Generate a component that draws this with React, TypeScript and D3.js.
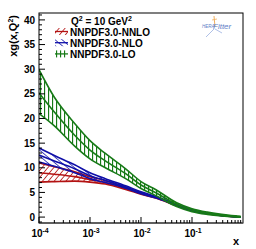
import React from "react";
import * as d3 from "d3";

const xGrid = [1e-4, 2e-4, 5e-4, 1e-3, 2e-3, 5e-3, 1e-2, 2e-2, 5e-2, 0.1, 0.2, 0.3, 0.5, 0.7, 0.9];

const nnloCentral = [9.0, 8.7, 8.2, 7.6, 7.0, 5.8, 4.8, 3.9, 2.4, 1.35, 0.75, 0.48, 0.22, 0.1, 0.04];
const nnloLow = [7.1, 7.2, 7.3, 7.1, 6.7, 5.6, 4.65, 3.8, 2.3, 1.28, 0.71, 0.45, 0.2, 0.09, 0.03];
const nnloHigh = [11.0, 10.2, 9.2, 8.2, 7.4, 6.0, 4.95, 4.0, 2.5, 1.42, 0.79, 0.51, 0.24, 0.11, 0.05];

const nloCentral = [12.6, 11.4, 9.8, 8.4, 7.4, 6.1, 4.95, 4.0, 2.45, 1.37, 0.76, 0.48, 0.22, 0.1, 0.04];
const nloLow = [11.2, 10.3, 9.0, 7.8, 7.0, 5.85, 4.75, 3.85, 2.35, 1.3, 0.72, 0.45, 0.2, 0.09, 0.03];
const nloHigh = [14.0, 12.5, 10.6, 9.0, 7.8, 6.35, 5.15, 4.15, 2.55, 1.44, 0.8, 0.51, 0.24, 0.11, 0.05];

const loCentral = [25.2, 21.3, 16.6, 13.6, 11.4, 8.8, 6.5, 4.9, 2.55, 1.4, 0.8, 0.52, 0.27, 0.13, 0.06];
const loLow = [21.0, 18.5, 14.4, 11.8, 10.0, 7.8, 5.8, 4.3, 2.15, 1.1, 0.55, 0.33, 0.13, 0.04, 0.0];
const loHigh = [29.9, 24.3, 19.0, 15.5, 12.9, 9.8, 7.2, 5.5, 2.9, 1.7, 1.0, 0.7, 0.4, 0.24, 0.14];

const legendLabels = ["NNPDF3.0-NNLO", "NNPDF3.0-NLO", "NNPDF3.0-LO"];
const yTickValues = [0, 5, 10, 15, 20, 25, 30, 35, 40];
const xTickExponents = [-4, -3, -2, -1];

const W = 256;
const H = 249;
const left = 39;
const right = 243;
const top = 13;
const bottom = 223;

const RED = "#b31212";
const BLUE = "#1010a8";
const GREEN = "#177a17";

const App: React.FC = () => {
  const x = d3.scaleLog().domain([1e-4, 1]).range([left, right]);
  const y = d3.scaleLinear().domain([-1.2, 41.4]).range([bottom, top]);

  const line = (vals: number[]) =>
    d3
      .line<number>()
      .x((_, i) => x(xGrid[i]))
      .y((d) => y(d))
      .curve(d3.curveMonotoneX)(vals) || "";

  const area = (lo: number[], hi: number[]) =>
    d3
      .area<number>()
      .x((_, i) => x(xGrid[i]))
      .y0((_, i) => y(lo[i]))
      .y1((_, i) => y(hi[i]))
      .curve(d3.curveMonotoneX)(lo) || "";

  const series = [
    { c: nnloCentral, lo: nnloLow, hi: nnloHigh, color: RED, pat: "hatchRed" },
    { c: nloCentral, lo: nloLow, hi: nloHigh, color: BLUE, pat: "hatchBlue" },
    { c: loCentral, lo: loLow, hi: loHigh, color: GREEN, pat: "hatchGreen" },
  ];

  // minor ticks
  const yMinor = d3.range(-1, 42, 1).filter((v) => v % 5 !== 0);
  const xMinor: number[] = [];
  for (let e = -4; e < 0; e++) {
    for (let k = 2; k <= 9; k++) xMinor.push(k * Math.pow(10, e));
  }

  const font = "'Liberation Sans', Arial, sans-serif";

  return (
    <svg
      width={W}
      height={H}
      style={{ position: "absolute", left: 0, top: 0, background: "#fff" }}
      fontFamily={font}
    >
      <defs>
        <pattern id="hatchRed" patternUnits="userSpaceOnUse" width="4.5" height="4.5" patternTransform="rotate(40)">
          <line x1="0" y1="0" x2="0" y2="4.5" stroke={RED} strokeWidth={1.6} />
        </pattern>
        <pattern id="hatchBlue" patternUnits="userSpaceOnUse" width="4.5" height="4.5" patternTransform="rotate(-50)">
          <line x1="0" y1="0" x2="0" y2="4.5" stroke={BLUE} strokeWidth={1.5} />
        </pattern>
        <pattern id="hatchGreen" patternUnits="userSpaceOnUse" width="4" height="4">
          <line x1="0.5" y1="0" x2="0.5" y2="4" stroke={GREEN} strokeWidth={1.3} />
        </pattern>
        <clipPath id="frame">
          <rect x={left} y={top} width={right - left} height={bottom - top} />
        </clipPath>
      </defs>

      <rect x={0} y={0} width={W} height={H} fill="#fff" />

      {/* bands */}
      <g clipPath="url(#frame)">
        {series.map((s, i) => (
          <g key={i}>
            <path d={area(s.lo, s.hi)} fill={`url(#${s.pat})`} stroke="none" />
            <path d={line(s.lo)} fill="none" stroke={s.color} strokeWidth={1.6} />
            <path d={line(s.hi)} fill="none" stroke={s.color} strokeWidth={1.6} />
            <path d={line(s.c)} fill="none" stroke={s.color} strokeWidth={1.6} />
          </g>
        ))}
      </g>

      {/* frame */}
      <rect x={left} y={top} width={right - left} height={bottom - top} fill="none" stroke="#000" strokeWidth={1} />
      <line x1={left} x2={right} y1={bottom} y2={bottom} stroke="#555" strokeWidth={1.6} />

      {/* y axis ticks */}
      {yTickValues.map((v) => (
        <g key={v}>
          <line x1={left} x2={left + 6} y1={y(v)} y2={y(v)} stroke="#000" strokeWidth={1} />
          <text x={left - 4} y={y(v) + 3.6} fontSize={10} fontWeight="bold" textAnchor="end">
            {v}
          </text>
        </g>
      ))}
      {yMinor.map((v) => (
        <line key={v} x1={left} x2={left + 3} y1={y(v)} y2={y(v)} stroke="#000" strokeWidth={1} />
      ))}

      {/* x axis ticks */}
      {xTickExponents.map((e) => {
        const px = x(Math.pow(10, e));
        return (
          <g key={e}>
            <line x1={px} x2={px} y1={bottom} y2={bottom - 6} stroke="#000" strokeWidth={1} />
            <text x={px - 2} y={bottom + 14} fontSize={10} fontWeight="bold" textAnchor="middle">
              10
            </text>
            <text x={px + 3.5} y={bottom + 9.5} fontSize={7} fontWeight="bold">
              {e}
            </text>
          </g>
        );
      })}
      {xMinor.map((v, i) => (
        <line key={i} x1={x(v)} x2={x(v)} y1={bottom} y2={bottom - 3} stroke="#000" strokeWidth={1} />
      ))}

      {/* axis titles */}
      <text x={239} y={245} fontSize={11} fontWeight="bold" textAnchor="end">
        x
      </text>
      <text transform="translate(17,15) rotate(-90)" fontSize={11} fontWeight="bold" textAnchor="end">
        xg(x,Q<tspan dy={-4} fontSize={7}>2</tspan>
        <tspan dy={4}>)</tspan>
      </text>

      {/* legend */}
      <text x={71} y={25} fontSize={10} fontWeight="bold">
        Q<tspan dy={-4} fontSize={7}>2</tspan>
        <tspan dy={4}> = 10 GeV</tspan>
        <tspan dy={-4} fontSize={7}>2</tspan>
      </text>
      {legendLabels.map((lab, i) => {
        const yy = 35.5 + i * 11.2;
        const s = series[i];
        return (
          <g key={lab}>
            <rect x={55} y={yy - 7.5} width={13} height={7} fill={`url(#${s.pat})`} />
            <line x1={55} x2={68} y1={yy - 4} y2={yy - 4} stroke={s.color} strokeWidth={1.3} />
            <text x={70} y={yy} fontSize={10} fontWeight="bold">
              {lab}
            </text>
          </g>
        );
      })}

      {/* HERAFitter logo */}
      <g>
        <line x1={214} y1={16} x2={215} y2={27} stroke="#f0b060" strokeWidth={1} />
        <line x1={212} y1={20} x2={217} y2={19} stroke="#f0b060" strokeWidth={0.8} />
        <line x1={214} y1={29} x2={206} y2={37} stroke="#9ab0e0" strokeWidth={0.8} />
        <line x1={215} y1={29} x2={222} y2={33} stroke="#9ab0e0" strokeWidth={0.8} />
        <text x={202} y={28} fontSize={4.5} fontStyle="italic" fill="#5f7fc8">
          HERA
        </text>
        <text x={213} y={28.5} fontSize={8} fontStyle="italic" fill="#5f7fc8">
          Fitter
        </text>
      </g>
    </svg>
  );
};

export default App;
